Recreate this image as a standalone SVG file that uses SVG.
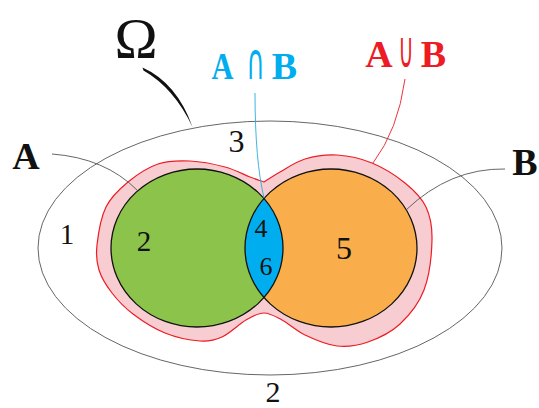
<svg xmlns="http://www.w3.org/2000/svg" width="539" height="408" viewBox="0 0 539 408">
<style>
.num{font-family:"Liberation Serif",serif;fill:#111;text-anchor:middle}
.lbl{font-family:"Liberation Serif",serif;font-weight:bold;font-size:38px;text-anchor:middle}
.op{font-family:"DejaVu Sans",sans-serif;font-size:50px;text-anchor:middle}
.lead{fill:none;stroke:#555;stroke-width:0.9}
.set{stroke:#111;stroke-width:1.3}
</style>
<rect width="539" height="408" fill="#fff"/>
<g id="omega">
<ellipse cx="270" cy="248" rx="232" ry="127" fill="none" stroke="#555" stroke-width="0.9"/>
</g>
<g id="union">
<path d="M97,245 C98.170,234.5 100.83,217.5 106,207 C111.17,196.5 119.33,189.17 128,182 C136.67,174.83 147.67,167.5 158,164 C168.33,160.5 178.83,160.5 190,161 C201.17,161.5 215,164.33 225,167 C235,169.67 243.5,174.5 250,177 C256.5,179.5 259.33,180.33 264,182 C269.33,178.67 273.17,175.83 280,172 C286.83,168.17 295.5,161.830 305,159 C314.5,156.17 325.83,154.33 337,155 C348.17,155.67 360.67,158.33 372,163 C383.33,167.67 396,175.67 405,183 C414,190.33 421.5,197.5 426,207 C430.5,216.5 432.33,226.17 432,240 C431.67,253.83 429.33,276 424,290 C418.67,304 409.33,315.33 400,324 C390.67,332.67 378.5,338.33 368,342 C357.5,345.67 347.5,347.17 337,346 C326.5,344.83 314.17,339.33 305,335 C295.83,330.67 288.83,323.67 282,320 C275.17,316.33 270,313 264,313 C258,313 253,316 246,320 C239,324 229.67,333.5 222,337 C214.33,340.5 209.5,341.67 200,341 C190.5,340.33 176.17,337.5 165,333 C153.83,328.5 141.83,320.67 133,314 C124.17,307.33 117.67,300.33 112,293 C106.33,285.67 101.5,278 99,270 C96.5,262 95.83,255.5 97,245 Z" fill="#f8cdd2" stroke="#ed1c24" stroke-width="1.2"/>
</g>
<g id="setA">
<ellipse cx="197" cy="248" rx="86" ry="79" fill="#8cc34a"/>
</g>
<g id="setB">
<ellipse cx="331" cy="248" rx="86" ry="79" fill="#f9ae4b"/>
</g>
<g id="intersection">
<path d="M264,198.47 A86,79 0 0,1 264,297.53 A86,79 0 0,1 264,198.47 Z" fill="#00aeef"/>
</g>
<g id="outlines">
<ellipse cx="197" cy="248" rx="86" ry="79" fill="none" class="set"/>
<ellipse cx="331" cy="248" rx="86" ry="79" fill="none" class="set"/>
</g>
<g id="connectors">
<path d="M142.5,67.5 Q177,83 192.5,127 Q174,88 143.5,70.5 Z" fill="#111"/>
<path class="lead" d="M52,154 Q105,158 137,190"/>
<path class="lead" d="M505,169 Q450,168 406,210"/>
<path d="M255,93 Q255,160 264,198" fill="none" stroke="#29abe2" stroke-width="0.9"/>
<path d="M405,79 Q398,130 373,163" fill="none" stroke="#ed1c24" stroke-width="0.9"/>
</g>
<g id="labels">
<text x="136" y="58" style="font-family:'Liberation Serif',serif;font-size:58px;text-anchor:middle" fill="#111">Ω</text>
<text class="lbl" x="26" y="169" fill="#111">A</text>
<text class="lbl" x="525" y="175" fill="#111">B</text>
<text class="lbl" transform="translate(222.5,79) scale(0.8,1)" fill="#00aeef">A</text>
<text class="op" transform="translate(255.5,79) scale(0.5,1)" fill="#00aeef">∩</text>
<text class="lbl" x="284.5" y="79" fill="#00aeef">B</text>
<text class="lbl" x="379" y="67" fill="#ed1c24">A</text>
<text class="op" transform="translate(406,67) scale(0.42,1)" fill="#ed1c24">∪</text>
<text class="lbl" x="433.5" y="67" fill="#ed1c24">B</text>
<text class="num" x="67" y="244" font-size="29">1</text>
<text class="num" x="144" y="251" font-size="29">2</text>
<text class="num" x="236.5" y="152" font-size="32">3</text>
<text class="num" x="261" y="237" font-size="26">4</text>
<text class="num" x="344" y="259" font-size="32">5</text>
<text class="num" x="266" y="275" font-size="26">6</text>
<text class="num" x="273" y="402" font-size="30">2</text>
</g>
</svg>
